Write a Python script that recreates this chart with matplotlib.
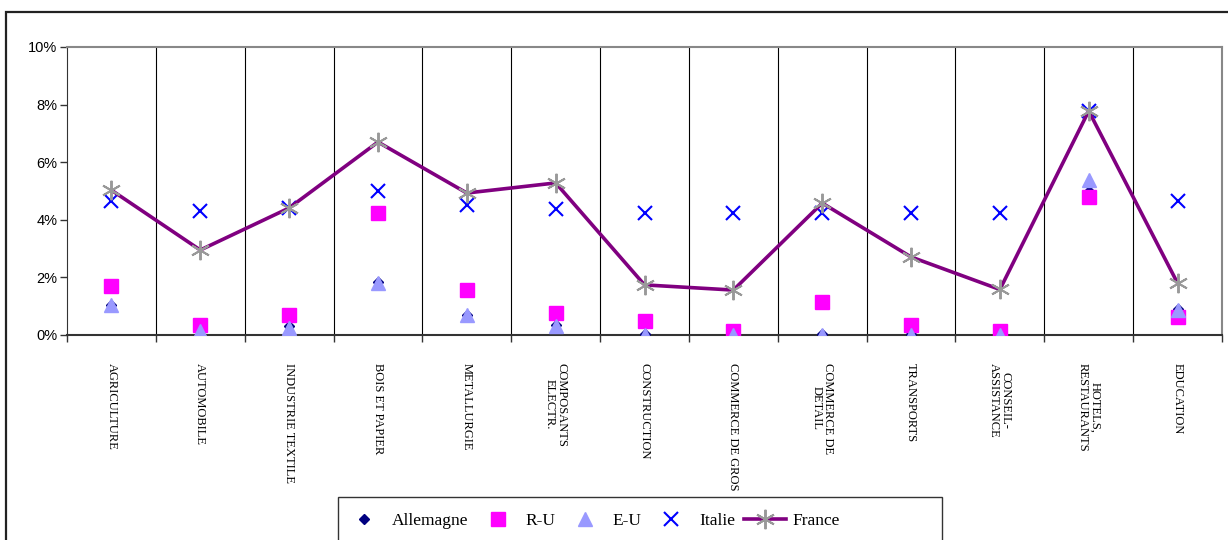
import numpy as np
import matplotlib.pyplot as plt
from matplotlib.patches import Rectangle
from matplotlib.ticker import FuncFormatter, FixedLocator

# categories (x axis) ##############################################
secteurs = ["AGRICULTURE", "AUTOMOBILE", "INDUSTRIE TEXTILE", "BOIS ET PAPIER",
            "METALLURGIE", "COMPOSANTS\nELECTR.", "CONSTRUCTION",
            "COMMERCE DE GROS", "COMMERCE DE\nDETAIL", "TRANSPORTS",
            "CONSEIL-\nASSISTANCE", "HOTELS,\nRESTAURANTS", "EDUCATION"]

# values in % ######################################################
allemagne = [1.05, 0.20, 0.30, 1.85, 0.70, 0.35, 0.02, 0.05, 0.02, 0.05, 0.05, 5.00, 0.90]
ru        = [1.70, 0.35, 0.70, 4.25, 1.56, 0.76, 0.49, 0.14, 1.15, 0.35, 0.14, 4.79, 0.62]
eu        = [1.04, 0.14, 0.24, 1.80, 0.70, 0.31, 0.00, 0.00, 0.00, 0.00, 0.00, 5.38, 0.87]
italie    = [4.65, 4.30, 4.40, 5.00, 4.51, 4.38, 4.25, 4.25, 4.25, 4.25, 4.25, 7.78, 4.65]
france    = [5.03, 2.95, 4.41, 6.70, 4.93, 5.28, 1.74, 1.56, 4.58, 2.71, 1.58, 7.78, 1.80]

x = np.arange(len(secteurs))

fig = plt.figure(figsize=(12.28, 5.4), dpi=100)
W, H = 1228, 540
ax = fig.add_axes([67 / W, 1 - 335 / H, (1222 - 67) / W, (335 - 47) / H])

# outer frame of the chart, runs off the right and bottom edges
fig.patches.append(Rectangle((6 / W, -0.1), 1.2, 1 - 12 / H + 0.1,
                             transform=fig.transFigure, fill=False,
                             edgecolor="#222222", linewidth=1.6))

# separators between categories
for b in np.arange(0.5, len(secteurs) - 0.5, 1):
    ax.axvline(b, color="black", linewidth=0.8, zorder=1)

ax.plot(x, allemagne, linestyle="none", marker="D", markersize=5.5,
        color="#000080", label="Allemagne", zorder=3)
ax.plot(x, ru, linestyle="none", marker="s", markersize=9.5,
        color="#FF00FF", label="R-U", zorder=3)
ax.plot(x, eu, linestyle="none", marker="^", markersize=10,
        color="#9999FF", label="E-U", zorder=3)
ax.plot(x, italie, linestyle="none", marker="x", markersize=9.5,
        markeredgewidth=1.5, color="#0000FF", label="Italie", zorder=3)
ax.plot(x, france, color="#800080", linewidth=2.6, marker=(6, 2, 0),
        markersize=14, markeredgewidth=1.4, markeredgecolor="#999999",
        label="France", zorder=4)

ax.set_xlim(-0.5, len(secteurs) - 0.5)
ax.set_ylim(0, 10)
ax.set_yticks(np.arange(0, 11, 2))
ax.yaxis.set_major_formatter(FuncFormatter(lambda v, p: "%d%%" % v))
ax.tick_params(axis="y", direction="out", length=5, width=1, color="#333333",
               labelsize=10.5, pad=2)
for lab in ax.get_yticklabels():
    lab.set_family("Liberation Sans")

ax.set_xticks(x)
ax.set_xticklabels(secteurs, rotation=270, family="Liberation Serif",
                   fontsize=9, multialignment="center", linespacing=1.0)
ax.tick_params(axis="x", which="major", length=0, pad=20)
ax.xaxis.set_minor_locator(FixedLocator(np.arange(-0.5, len(secteurs), 1)))
ax.tick_params(axis="x", which="minor", direction="out", length=5,
               width=1, color="#333333")

ax.spines["left"].set_color("#333333")
ax.spines["bottom"].set_color("#333333")
ax.spines["bottom"].set_linewidth(1.5)
ax.spines["top"].set_color("#888888")
ax.spines["right"].set_color("#888888")
ax.spines["top"].set_linewidth(1.5)
ax.spines["right"].set_linewidth(1.5)

# legend box, also cut by the bottom edge
fig.patches.append(Rectangle((338 / W, -0.1), (942 - 338) / W, 0.1 + 1 - 497 / H,
                             transform=fig.transFigure, fill=False,
                             edgecolor="#333333", linewidth=1.0))
leg = fig.legend(loc="upper left", bbox_to_anchor=(338 / W, 1 - 508 / H),
                 ncol=5, frameon=False, borderpad=0.3,
                 borderaxespad=0, columnspacing=0.5, handlelength=2.4,
                 handletextpad=0.4,
                 prop={"family": "Liberation Serif", "size": 12.5})

fig.savefig("out.png", dpi=100)
